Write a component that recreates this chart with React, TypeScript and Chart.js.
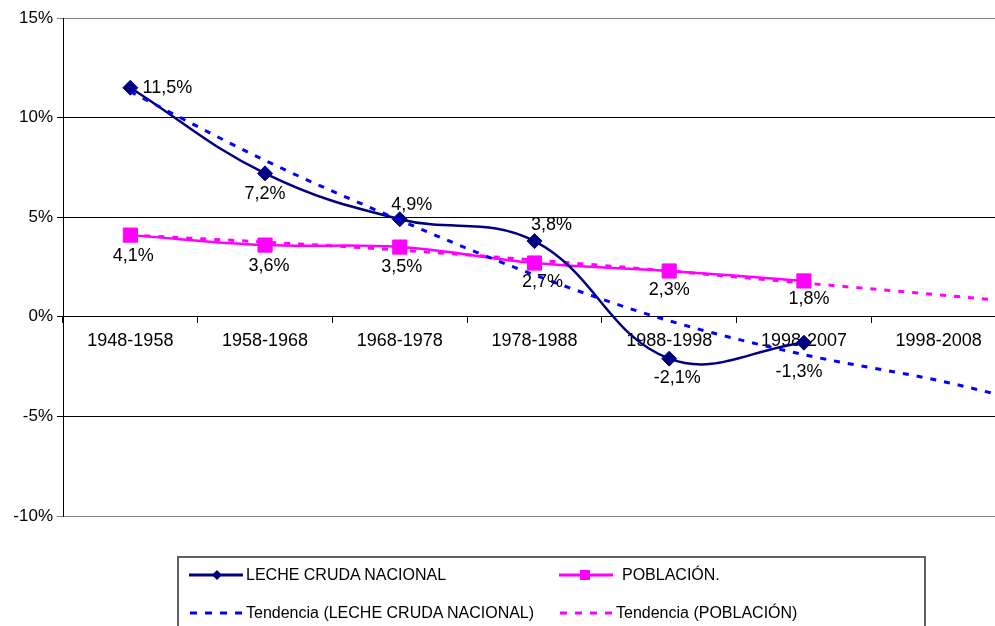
import React, { useEffect, useRef } from 'react';
import { Chart, registerables } from 'chart.js';

Chart.register(...registerables);

// ---- data ----
const categories = ['1948-1958', '1958-1968', '1968-1978', '1978-1988', '1988-1998', '1998-2007', '1998-2008'];
const lecheValues = [11.5, 7.2, 4.9, 3.8, -2.1, -1.3];
const poblacionValues = [4.1, 3.6, 3.5, 2.7, 2.3, 1.8];
const trendPositions = [0, 1, 2, 3, 4, 5, 6, 6.5];
const lecheTrend = [11.3, 7.85, 4.85, 2.1, -0.2, -1.9, -3.2, -4.0];
const poblacionTrend = [4.1, 3.75, 3.35, 2.85, 2.3, 1.7, 1.1, 0.8];
const yTickValues = [-10, -5, 0, 5, 10, 15];

// ---- styles ----
const NAVY = '#000080';
const MAGENTA = '#FF00FF';
const BLUE = '#0000FF';
const FONT = "'Liberation Sans', Arial, sans-serif";

const lecheLabelOffsets = [[37, 0], [0, 21], [12, -14], [17, -16], [8, 19], [-5, 29]];
const poblacionLabelOffsets = [[3, 21], [4, 21], [2, 20], [8, 19], [0, 19], [5, 18]];

const fmt = (v: number) => v.toFixed(1).replace('.', ',') + '%';

const dataLabels = {
  id: 'dataLabels',
  afterDatasetsDraw(chart: any) {
    const ctx = chart.ctx;
    ctx.save();
    ctx.font = `18px ${FONT}`;
    ctx.fillStyle = '#000';
    ctx.textAlign = 'center';
    ctx.textBaseline = 'middle';
    const groups: [number, number[], number[][]][] = [
      [0, lecheValues, lecheLabelOffsets],
      [1, poblacionValues, poblacionLabelOffsets],
    ];
    groups.forEach(([idx, vals, offs]) => {
      const meta = chart.getDatasetMeta(idx);
      meta.data.forEach((pt: any, j: number) => {
        ctx.fillText(fmt(vals[j]), pt.x + offs[j][0], pt.y + offs[j][1]);
      });
    });
    ctx.restore();
  },
};

export default function App() {
  const canvasRef = useRef<HTMLCanvasElement | null>(null);

  useEffect(() => {
    if (!canvasRef.current) return;
    const chart = new Chart(canvasRef.current, {
      type: 'line',
      data: {
        labels: categories,
        datasets: [
          {
            label: 'LECHE CRUDA NACIONAL',
            data: lecheValues.map((v, i) => ({ x: i, y: v })),
            xAxisID: 'xl',
            yAxisID: 'y',
            borderColor: NAVY,
            backgroundColor: NAVY,
            borderWidth: 2.5,
            tension: 0.4,
            pointStyle: 'rectRot',
            pointRadius: 7.5,
            pointBorderWidth: 1,
            pointBackgroundColor: NAVY,
            pointBorderColor: NAVY,
            order: 1,
          },
          {
            label: 'POBLACIÓN.',
            data: poblacionValues.map((v, i) => ({ x: i, y: v })),
            xAxisID: 'xl',
            yAxisID: 'y',
            borderColor: MAGENTA,
            backgroundColor: MAGENTA,
            borderWidth: 2.5,
            tension: 0.4,
            pointStyle: 'rect',
            pointRadius: 10,
            pointBorderWidth: 1,
            pointBackgroundColor: MAGENTA,
            pointBorderColor: MAGENTA,
            order: 1,
          },
          {
            label: 'Tendencia (LECHE CRUDA NACIONAL)',
            data: trendPositions.map((x, i) => ({ x, y: lecheTrend[i] })),
            xAxisID: 'xl',
            yAxisID: 'y',
            borderColor: BLUE,
            borderWidth: 3,
            borderDash: [6, 8],
            pointRadius: 0,
            cubicInterpolationMode: 'monotone',
            order: 0,
          },
          {
            label: 'Tendencia (POBLACIÓN)',
            data: trendPositions.map((x, i) => ({ x, y: poblacionTrend[i] })),
            xAxisID: 'xl',
            yAxisID: 'y',
            borderColor: MAGENTA,
            borderWidth: 3,
            borderDash: [6, 8],
            pointRadius: 0,
            cubicInterpolationMode: 'monotone',
            order: 2,
          },
        ],
      },
      options: {
        responsive: false,
        animation: false,
        layout: { autoPadding: false, padding: { top: 18, bottom: 110, left: 0, right: 0 } },
        plugins: {
          legend: { display: false },
          tooltip: { enabled: false },
        },
        scales: {
          x: {
            type: 'category',
            labels: categories,
            offset: true,
            position: { y: 0 },
            grid: { display: true, drawOnChartArea: false, offset: true, tickLength: 6, color: '#000' },
            border: { display: true, color: '#000', width: 1 },
            ticks: { font: { size: 18, family: FONT }, color: '#000', padding: 7, maxRotation: 0, autoSkip: false },
            afterFit: (s: any) => {
              s.paddingLeft = 0;
              s.paddingRight = 0;
            },
          },
          xl: {
            type: 'linear',
            axis: 'x',
            position: 'bottom',
            display: false,
            min: -0.5,
            max: 6.5,
          },
          y: {
            type: 'linear',
            min: yTickValues[0],
            max: yTickValues[yTickValues.length - 1],
            afterBuildTicks: (s: any) => {
              s.ticks = yTickValues.map((v) => ({ value: v }));
            },
            afterFit: (s: any) => {
              s.width = 63;
            },
            ticks: {
              callback: (v: any) => v + '%',
              font: { size: 17, family: FONT },
              color: '#000',
              padding: 4,
            },
            grid: {
              color: (c: any) => (c.tick && (c.tick.value === 15 || c.tick.value === -10) ? '#808080' : '#000'),
              tickLength: 6,
              lineWidth: 1,
            },
            border: { display: true, color: '#000', width: 1 },
          },
        },
      } as any,
      plugins: [dataLabels],
    });
    return () => chart.destroy();
  }, []);

  const textStyle = (left: number, top: number): React.CSSProperties => ({
    position: 'absolute',
    left,
    top,
    transform: 'translateY(-50%)',
    font: `16px ${FONT}`,
    color: '#000',
    whiteSpace: 'nowrap',
    lineHeight: '18px',
  });

  return (
    <div style={{ position: 'fixed', left: 0, top: 0, width: 1006, height: 626, overflow: 'hidden', background: '#fff' }}>
      <div style={{ position: 'absolute', left: 0, top: 0, width: 1006, height: 626 }}>
        <canvas ref={canvasRef} width={1006} height={626} style={{ width: 1006, height: 626 }} />
      </div>
      <div
        style={{
          position: 'absolute',
          left: 177,
          top: 556,
          width: 749,
          height: 120,
          borderTop: '2px solid #606060',
          borderLeft: '2px solid #606060',
          borderRight: '2px solid #606060',
          boxSizing: 'border-box',
        }}
      />
      <svg width={995} height={626} style={{ position: 'absolute', left: 0, top: 0, pointerEvents: 'none' }}>
        <line x1={189} y1={575} x2={243} y2={575} stroke={NAVY} strokeWidth={3} />
        <polygon points="217,570 222,575 217,580 212,575" fill={NAVY} />
        <line x1={559} y1={575} x2={613} y2={575} stroke={MAGENTA} strokeWidth={3} />
        <rect x={580} y={570} width={10} height={10} fill={MAGENTA} />
        <line x1={190} y1={613} x2={243} y2={613} stroke={BLUE} strokeWidth={3} strokeDasharray="7 8" />
        <line x1={560} y1={613} x2={612} y2={613} stroke={MAGENTA} strokeWidth={3} strokeDasharray="7 8" />
      </svg>
      <span style={textStyle(246, 575)}>LECHE CRUDA NACIONAL</span>
      <span style={textStyle(622, 575)}>POBLACIÓN.</span>
      <span style={textStyle(246, 613)}>Tendencia (LECHE CRUDA NACIONAL)</span>
      <span style={textStyle(616, 613)}>Tendencia (POBLACIÓN)</span>
    </div>
  );
}
